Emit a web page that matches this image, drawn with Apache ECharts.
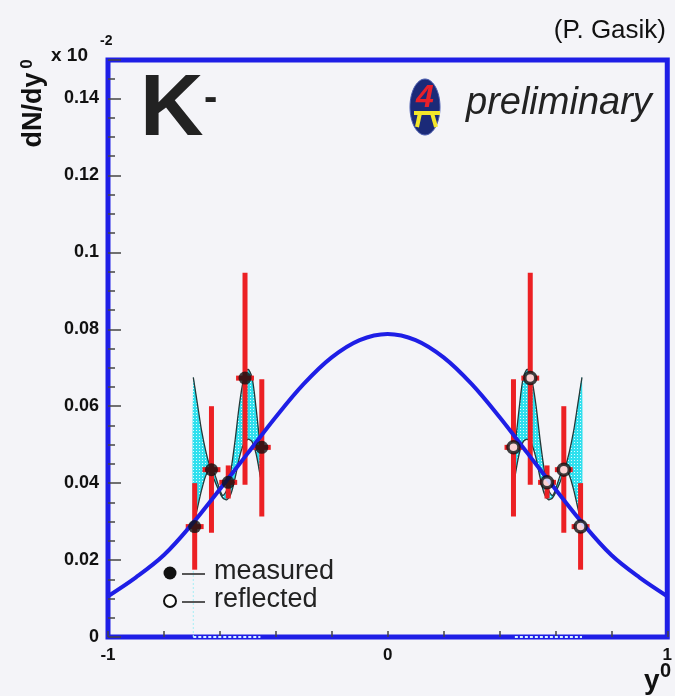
<!DOCTYPE html>
<html>
<head>
<meta charset="utf-8">
<script src="https://cdn.jsdelivr.net/npm/echarts@6/dist/echarts.min.js"></script>
<style>
  html, body { margin: 0; padding: 0; background: #f4f4f8; }
  #chart { width: 675px; height: 696px; }
</style>
</head>
<body>
<div id="chart"></div>
<script>
// K- rapidity density dN/dy0 (units of 10^-2)

// measured points (left half)
const measuredX = [-0.69, -0.63, -0.57, -0.51, -0.45];
const measuredY = [0.0287, 0.0435, 0.0402, 0.0673, 0.0493];
const measuredLow = [0.0175, 0.0271, 0.0360, 0.0396, 0.0313];
const measuredHigh = [0.0400, 0.0600, 0.0446, 0.0947, 0.0670];

// reflected points (right half)
const reflectedX = [0.45, 0.51, 0.57, 0.63, 0.69];
const reflectedY = [0.0493, 0.0673, 0.0402, 0.0435, 0.0287];
const reflectedLow = [0.0313, 0.0396, 0.0360, 0.0271, 0.0175];
const reflectedHigh = [0.0670, 0.0947, 0.0446, 0.0600, 0.0400];

// rapidity bin half width
const binHalf = 0.032;

// fitted distribution
const fitX = [-1, -0.9, -0.8, -0.7, -0.6, -0.5, -0.4, -0.3, -0.2, -0.1, 0,
              0.1, 0.2, 0.3, 0.4, 0.5, 0.6, 0.7, 0.8, 0.9, 1];
const fitY = [0.0106, 0.0155, 0.0213, 0.0293, 0.0384, 0.0478, 0.0572, 0.0658, 0.0727, 0.0772, 0.0788,
              0.0772, 0.0727, 0.0658, 0.0572, 0.0478, 0.0384, 0.0293, 0.0213, 0.0155, 0.0106];

// systematic band, left side (two bounding curves)
const bandLeftX = [-0.695, -0.68, -0.665, -0.65, -0.635, -0.62, -0.605, -0.59, -0.575,
                   -0.56, -0.545, -0.53, -0.515, -0.50, -0.485, -0.47, -0.455];
const bandLeftA = [0.0287, 0.0336, 0.0383, 0.0420, 0.0435, 0.0425, 0.0394, 0.0368, 0.0383,
                   0.0435, 0.0514, 0.0605, 0.0670, 0.0696, 0.0675, 0.0592, 0.0488];
const bandLeftB = [0.0675, 0.0605, 0.0535, 0.0482, 0.0441, 0.0409, 0.0383, 0.0362, 0.0357,
                   0.0373, 0.0415, 0.0467, 0.0501, 0.0514, 0.0508, 0.0475, 0.0415];

// systematic band, right side
const bandRightX = [0.455, 0.47, 0.485, 0.50, 0.515, 0.53, 0.545, 0.56, 0.575,
                    0.59, 0.605, 0.62, 0.635, 0.65, 0.665, 0.68, 0.695];
const bandRightA = [0.0488, 0.0592, 0.0675, 0.0696, 0.0670, 0.0605, 0.0514, 0.0435, 0.0383,
                    0.0368, 0.0394, 0.0425, 0.0435, 0.0420, 0.0383, 0.0336, 0.0287];
const bandRightB = [0.0415, 0.0475, 0.0508, 0.0514, 0.0501, 0.0467, 0.0415, 0.0373, 0.0357,
                    0.0362, 0.0383, 0.0409, 0.0441, 0.0482, 0.0535, 0.0605, 0.0675];

// axis labels
const xLabelValues = [-1, 0, 1];

const FONT = '"Liberation Sans", Arial, Helvetica, sans-serif';
const BLUE = '#1e1ee6';
const RED = '#ec2024';

function dotPattern() {
  const c = document.createElement('canvas');
  c.width = 3; c.height = 3;
  const g = c.getContext('2d');
  g.fillStyle = '#2fe0ee';
  g.fillRect(0, 0, 3, 3);
  g.fillStyle = '#dafaff';
  g.fillRect(1, 1, 1, 1);
  return c;
}
const pattern = { image: dotPattern(), repeat: 'repeat' };

function bandSeries(xs, a, b) {
  return {
    type: 'custom',
    z: 2,
    silent: true,
    data: [[xs[0], a[0]]],
    renderItem: function (params, api) {
      const top = xs.map((x, i) => api.coord([x, a[i]]));
      const bot = xs.map((x, i) => api.coord([x, b[i]]));
      const poly = top.concat(bot.slice().reverse());
      return {
        type: 'group',
        children: [
          { type: 'polygon', shape: { points: poly, smooth: 0.25 },
            style: { fill: pattern, stroke: null } },
          { type: 'polyline', shape: { points: top, smooth: 0.3 },
            style: { stroke: '#243838', lineWidth: 1.3, fill: null } },
          { type: 'polyline', shape: { points: bot, smooth: 0.3 },
            style: { stroke: '#243838', lineWidth: 1.3, fill: null } }
        ]
      };
    }
  };
}

function errorSeries(xs, ys, lo, hi) {
  return {
    type: 'custom',
    z: 3,
    silent: true,
    data: xs.map((x, i) => [x, ys[i], lo[i], hi[i]]),
    encode: { x: 0, y: [1, 2, 3] },
    renderItem: function (params, api) {
      const x = api.value(0), y = api.value(1);
      const pLo = api.coord([x, api.value(2)]);
      const pHi = api.coord([x, api.value(3)]);
      const pL = api.coord([x - binHalf, y]);
      const pR = api.coord([x + binHalf, y]);
      return {
        type: 'group',
        children: [
          { type: 'rect', shape: { x: pLo[0] - 2.5, y: pHi[1], width: 5, height: pLo[1] - pHi[1] },
            style: { fill: RED } },
          { type: 'rect', shape: { x: pL[0], y: pL[1] - 2.5, width: pR[0] - pL[0], height: 5 },
            style: { fill: RED } }
        ]
      };
    }
  };
}

const chart = echarts.init(document.getElementById('chart'), null, { renderer: 'canvas' });

const option = {
  backgroundColor: '#f4f4f8',
  animation: false,
  grid: {
    left: 108, right: 5, top: 60, bottom: 59,
    show: true, borderColor: BLUE, borderWidth: 5, backgroundColor: 'transparent'
  },
  xAxis: {
    type: 'value', min: -1, max: 1, interval: 0.2,
    axisLine: { show: false, onZero: false },
    splitLine: { show: false },
    axisTick: { show: true, inside: true, length: 6, lineStyle: { color: '#444', width: 1.5 } },
    axisLabel: {
      margin: 10, color: '#111', fontFamily: FONT, fontWeight: 'bold', fontSize: 17,
      formatter: function (v) {
        const hit = xLabelValues.find(t => Math.abs(t - v) < 1e-6);
        return hit === undefined ? '' : String(hit);
      }
    }
  },
  yAxis: {
    type: 'value', min: 0, max: 0.15, interval: 0.02,
    axisLine: { show: false, onZero: false },
    splitLine: { show: false },
    axisTick: { show: true, inside: true, length: 13, lineStyle: { color: '#444', width: 1.5 } },
    minorTick: { show: true, splitNumber: 4, length: 7, lineStyle: { color: '#444', width: 1.5 } },
    axisLabel: {
      margin: 9, color: '#111', fontFamily: FONT, fontWeight: 'bold', fontSize: 18,
      showMaxLabel: false
    }
  },
  series: [
    bandSeries(bandLeftX, bandLeftA, bandLeftB),
    bandSeries(bandRightX, bandRightA, bandRightB),
    {
      // band footprint on the axis
      type: 'line', z: 6, silent: true, symbol: 'none',
      data: [[bandLeftX[0], 0], [bandLeftX[bandLeftX.length - 1], 0]],
      lineStyle: { color: '#d8f4ff', width: 2, type: [3, 2] }
    },
    {
      type: 'line', z: 6, silent: true, symbol: 'none',
      data: [[bandRightX[0], 0], [bandRightX[bandRightX.length - 1], 0]],
      lineStyle: { color: '#d8f4ff', width: 2, type: [3, 2] }
    },
    {
      type: 'line', z: 1, silent: true, symbol: 'none',
      data: [[bandLeftX[0], 0], [bandLeftX[0], measuredLow[0]]],
      lineStyle: { color: '#a6eef5', width: 1, type: [2, 2] }
    },
    errorSeries(measuredX, measuredY, measuredLow, measuredHigh),
    errorSeries(reflectedX, reflectedY, reflectedLow, reflectedHigh),
    {
      type: 'line', z: 4, silent: true, smooth: 0.35, symbol: 'none',
      data: fitX.map((x, i) => [x, fitY[i]]),
      lineStyle: { color: BLUE, width: 4 }
    },
    {
      type: 'scatter', z: 5, silent: true, symbol: 'circle', symbolSize: 13,
      data: measuredX.map((x, i) => [x, measuredY[i]]),
      itemStyle: { color: '#111' }
    },
    {
      type: 'scatter', z: 5, silent: true, symbol: 'circle', symbolSize: 11,
      data: reflectedX.map((x, i) => [x, reflectedY[i]]),
      itemStyle: { color: '#ffffff', borderColor: '#111', borderWidth: 3.5 }
    }
  ],
  graphic: [
    { type: 'text', x: 666, y: 31, style: { text: '(P. Gasik)', font: '26px ' + FONT, fill: '#111', textAlign: 'right', textVerticalAlign: 'middle' } },
    { type: 'text', x: 51, y: 56, style: { text: 'x 10', font: 'bold 19px ' + FONT, fill: '#111', textAlign: 'left', textVerticalAlign: 'middle' } },
    { type: 'text', x: 100, y: 41, style: { text: '-2', font: 'bold 14px ' + FONT, fill: '#111', textAlign: 'left', textVerticalAlign: 'middle' } },
    { type: 'text', x: 34, y: 110, rotation: Math.PI / 2, style: { text: 'dN/dy', font: 'bold 27px ' + FONT, fill: '#111', textAlign: 'center', textVerticalAlign: 'middle' } },
    { type: 'text', x: 27, y: 64, rotation: Math.PI / 2, style: { text: '0', font: 'bold 17px ' + FONT, fill: '#111', textAlign: 'center', textVerticalAlign: 'middle' } },
    { type: 'text', x: 140, y: 111, style: { text: 'K', font: 'bold 88px ' + FONT, fill: '#222', textAlign: 'left', textVerticalAlign: 'middle' } },
    { type: 'text', x: 204, y: 99, style: { text: '-', font: 'bold 40px ' + FONT, fill: '#222', textAlign: 'left', textVerticalAlign: 'middle' } },
    // experiment logo
    { type: 'ellipse', shape: { cx: 425, cy: 107, rx: 15, ry: 28 }, style: { fill: '#1b2a78', stroke: '#4a5cb0', lineWidth: 1 } },
    { type: 'text', x: 425, y: 98, style: { text: '4', font: 'bold italic 32px ' + FONT, fill: '#e8202a', textAlign: 'center', textVerticalAlign: 'middle' } },
    { type: 'polyline', shape: { points: [[414, 113], [440, 113]] }, style: { stroke: '#f4e62a', lineWidth: 4 } },
    { type: 'polyline', shape: { points: [[420, 113], [417, 127]] }, style: { stroke: '#f4e62a', lineWidth: 4 } },
    { type: 'polyline', shape: { points: [[432, 113], [436, 127]] }, style: { stroke: '#f4e62a', lineWidth: 4 } },
    { type: 'text', x: 466, y: 103, style: { text: 'preliminary', font: 'italic 38px ' + FONT, fill: '#222', textAlign: 'left', textVerticalAlign: 'middle' } },
    // legend
    { type: 'circle', shape: { cx: 170, cy: 573, r: 6.5 }, style: { fill: '#111' } },
    { type: 'line', shape: { x1: 182, y1: 574, x2: 205, y2: 574 }, style: { stroke: '#222', lineWidth: 1.5 } },
    { type: 'text', x: 214, y: 572, style: { text: 'measured', font: '27px ' + FONT, fill: '#222', textAlign: 'left', textVerticalAlign: 'middle' } },
    { type: 'circle', shape: { cx: 170, cy: 601, r: 6 }, style: { fill: '#fff', stroke: '#111', lineWidth: 2 } },
    { type: 'line', shape: { x1: 182, y1: 602, x2: 205, y2: 602 }, style: { stroke: '#222', lineWidth: 1.5 } },
    { type: 'text', x: 214, y: 600, style: { text: 'reflected', font: '27px ' + FONT, fill: '#222', textAlign: 'left', textVerticalAlign: 'middle' } },
    // x axis title
    { type: 'text', x: 644, y: 681, style: { text: 'y', font: 'bold 28px ' + FONT, fill: '#111', textAlign: 'left', textVerticalAlign: 'middle' } },
    { type: 'text', x: 660, y: 671, style: { text: '0', font: 'bold 20px ' + FONT, fill: '#111', textAlign: 'left', textVerticalAlign: 'middle' } }
  ]
};

chart.setOption(option);
</script>
</body>
</html>
